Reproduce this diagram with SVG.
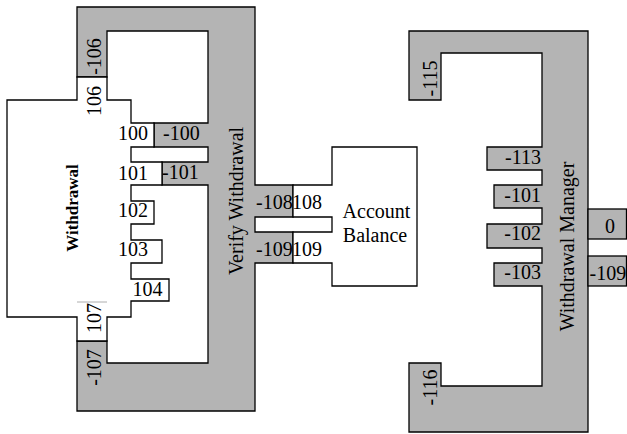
<svg xmlns="http://www.w3.org/2000/svg" width="627" height="434" viewBox="0 0 627 434">
<style>
.g{fill:#b4b4b4;stroke:#000;stroke-width:1.3;stroke-linejoin:miter}
.w{fill:#fff;stroke:#000;stroke-width:1.3;stroke-linejoin:miter}
.m{text-anchor:middle}
.e{text-anchor:end}
.b{font-weight:bold;font-size:17px}
</style>
<rect width="627" height="434" fill="#fff"/>
<g font-family="Liberation Serif, DejaVu Serif, serif" font-size="20" fill="#000">
<g id="verify-withdrawal">
<polygon class="g" points="77,7 255,7 255,185 293,185 293,217 255,217 255,232 293,232 293,263 255,263 255,411 77,411 77,341 107,341 107,363 208,363 208,185 162,185 162,162 208,162 208,147 154,147 154,123 208,123 208,31 107,31 107,77 77,77"/>
<text class="m" transform="translate(243,201) rotate(-90)">Verify Withdrawal</text>
<text class="m" transform="translate(101,56.5) rotate(-90)">-106</text>
<text class="m" transform="translate(101,367.5) rotate(-90)">-107</text>
<text x="163" y="140">-100</text>
<text x="162" y="179">-101</text>
<text x="256" y="209">-108</text>
<text x="256" y="256">-109</text>
</g>
<g id="withdrawal">
<polygon class="w" points="7,100 77,100 77,77 107,77 107,100 131,100 131,123 154,123 154,147 131,147 131,162 162,162 162,185 131,185 131,201 154,201 154,224 131,224 131,240 162,240 162,263 131,263 131,279 169,279 169,301 131,301 131,317 107,317 107,341 77,341 77,317 7,317"/>
<line x1="77" y1="302" x2="107" y2="302" stroke="#999" stroke-width="0.8"/>
<text class="b m" transform="translate(77.5,208) rotate(-90)">Withdrawal</text>
<text class="m" transform="translate(101,101) rotate(-90)">106</text>
<text class="m" transform="translate(101,318) rotate(-90)">107</text>
<text class="e" x="148" y="140">100</text>
<text class="e" x="148" y="180">101</text>
<text class="e" x="148" y="217">102</text>
<text class="e" x="148" y="256">103</text>
<text class="e" x="162.5" y="296">104</text>
</g>
<g id="account-balance">
<polygon class="w" points="332,147 417,147 417,286 332,286 332,263 293,263 293,232 332,232 332,217 293,217 293,185 332,185"/>
<text x="292" y="209">108</text>
<text x="292" y="256">109</text>
<text class="m" x="376.5" y="218">Account</text>
<text class="m" x="375" y="242">Balance</text>
</g>
<g id="withdrawal-manager">
<polygon class="g" points="409,31 588,31 588,432 409,432 409,363 441,363 441,386 542,386 542,286 494,286 494,263 542,263 542,248 487,248 487,224 542,224 542,208 494,208 494,185 542,185 542,170 487,170 487,147 542,147 542,53 441,53 441,100 409,100"/>
<rect class="g" x="588" y="209" width="38.5" height="30"/>
<rect class="g" x="588" y="256" width="38.5" height="30"/>
<text class="m" transform="translate(574,246.5) rotate(-90)">Withdrawal Manager</text>
<text class="m" transform="translate(437,78.5) rotate(-90)">-115</text>
<text class="m" transform="translate(437,387.5) rotate(-90)">-116</text>
<text class="e" x="541" y="164">-113</text>
<text class="e" x="541" y="202">-101</text>
<text class="e" x="541" y="240">-102</text>
<text class="e" x="541" y="279">-103</text>
<text class="m" x="610" y="233">0</text>
<text x="589.5" y="280">-109</text>
</g>
</g>
<g id="connectors"/>
</svg>
